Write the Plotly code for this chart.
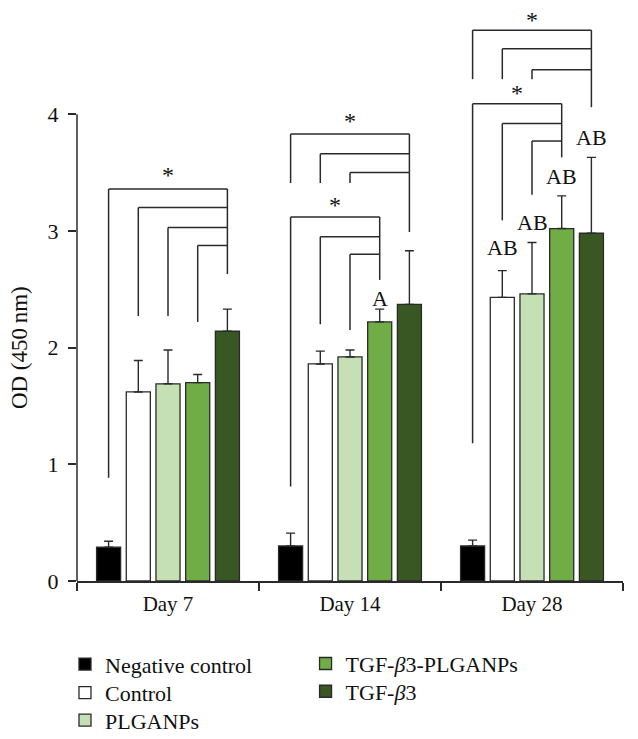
import plotly.graph_objects as go

# ---------------- data ----------------
groups = ["Day 7", "Day 14", "Day 28"]
series_names = ["Negative control", "Control", "PLGANPs",
                "TGF-<i>β</i>3-PLGANPs", "TGF-<i>β</i>3"]

neg_mean = [0.29, 0.30, 0.30]
neg_sd = [0.05, 0.11, 0.05]
ctrl_mean = [1.62, 1.86, 2.43]
ctrl_sd = [0.27, 0.11, 0.23]
plga_mean = [1.69, 1.92, 2.46]
plga_sd = [0.29, 0.06, 0.44]
tgfplga_mean = [1.70, 2.22, 3.02]
tgfplga_sd = [0.07, 0.11, 0.28]
tgf_mean = [2.14, 2.37, 2.98]
tgf_sd = [0.19, 0.46, 0.65]

y_ticks = [0, 1, 2, 3, 4]

# significance letters (per group, per series) and their heights
letters = [["", "", "", "", ""],
           ["", "", "", "A", ""],
           ["", "AB", "AB", "AB", "AB"]]
letter_y = [[0, 0, 0, 0, 0],
            [0, 0, 0, 2.42, 0],
            [0, 2.86, 3.07, 3.47, 3.80]]

# brackets: group, target series, source series, levels, leg ends
bracket_group = [0, 1, 1, 2, 2]
bracket_target = [4, 4, 3, 4, 3]
bracket_sources = [[0, 1, 2, 3], [0, 1, 2], [0, 1, 2], [0, 1, 2], [0, 1, 2]]
bracket_levels = [[3.36, 3.20, 3.03, 2.875], [3.83, 3.66, 3.50],
                  [3.12, 2.95, 2.80], [4.72, 4.56, 4.38], [4.09, 3.92, 3.77]]
bracket_leg_ends = [[0.885, 2.27, 2.27, 2.22], [3.41, 3.41, 3.41],
                    [0.81, 2.20, 2.15], [4.30, 4.30, 4.30], [1.18, 3.09, 3.31]]
bracket_target_end = [2.63, 2.99, 2.58, 4.06, 3.63]
bracket_star_y = [3.49, 3.95, 3.23, 4.82, 4.19]

# ---------------- style ----------------
colors = ["#000000", "#FFFFFF", "#C5E0B4", "#70AD47", "#385723"]
FONT = "Liberation Serif"
FS = 21
LEG_FS = 22
TXT_C = "#111111"
BARGAP = 0.184
BARGROUPGAP = 0.19
LINE_C = "#2a2a2a"

# legend placement (paper coords), one legend per entry
leg_x = [-0.022, -0.022, -0.022, 0.4186, 0.4186]
leg_y = [-0.110, -0.1605, -0.209, -0.109, -0.158]
leg_ids = ["legend", "legend2", "legend3", "legend4", "legend5"]

means = [neg_mean, ctrl_mean, plga_mean, tgfplga_mean, tgf_mean]
sds = [neg_sd, ctrl_sd, plga_sd, tgfplga_sd, tgf_sd]

fig = go.Figure()
for i in range(5):
    fig.add_trace(go.Bar(
        x=groups, y=means[i], name=series_names[i],
        marker=dict(color=colors[i], line=dict(color=LINE_C, width=1.3)),
        error_y=dict(type="data", symmetric=False, array=sds[i],
                     arrayminus=[0] * 3, color=LINE_C, thickness=1.4, width=4.5),
        legend=leg_ids[i],
    ))

n = 5
slot = (1 - BARGAP) / n


def bx(g, i):
    return g + (i - (n - 1) / 2) * slot


shapes = []
annotations = []
lk = dict(color=LINE_C, width=1.5)
for b in range(len(bracket_group)):
    g = bracket_group[b]
    xt = bx(g, bracket_target[b])
    top = bracket_levels[b][0]
    shapes.append(dict(type="line", xref="x", yref="y", x0=xt, x1=xt,
                       y0=top, y1=bracket_target_end[b], line=lk))
    for s, lev, end in zip(bracket_sources[b], bracket_levels[b], bracket_leg_ends[b]):
        xs = bx(g, s)
        shapes.append(dict(type="line", xref="x", yref="y", x0=xs, x1=xt,
                           y0=lev, y1=lev, line=lk))
        shapes.append(dict(type="line", xref="x", yref="y", x0=xs, x1=xs,
                           y0=lev, y1=end, line=lk))
    xs0 = bx(g, bracket_sources[b][0])
    annotations.append(dict(x=(xs0 + xt) / 2, y=bracket_star_y[b], xref="x", yref="y",
                            text="*", showarrow=False, yanchor="middle", yshift=-1,
                            font=dict(family=FONT, size=24, color=TXT_C)))

for g in range(3):
    for i in range(5):
        if letters[g][i]:
            annotations.append(dict(x=bx(g, i), y=letter_y[g][i], xref="x", yref="y",
                                    text=letters[g][i], showarrow=False, yanchor="middle",
                                    font=dict(family=FONT, size=LEG_FS, color=TXT_C)))

# y axis line only from 0 to 4
shapes.append(dict(type="line", xref="paper", yref="y", x0=0, x1=0, y0=0, y1=4,
                   line=dict(color=LINE_C, width=1.5)))

annotations.append(dict(x=0, y=2, xref="paper", yref="y", xshift=-72,
                        text="OD (450\u2009nm)", textangle=-90, showarrow=False,
                        font=dict(family=FONT, size=23, color=TXT_C)))

legends = {}
for k, lid in enumerate(leg_ids):
    legends[lid] = dict(x=leg_x[k], y=leg_y[k], xanchor="left", yanchor="top",
                        orientation="v", bgcolor="rgba(0,0,0,0)",
                        font=dict(family=FONT, size=LEG_FS, color=TXT_C))

# the page body has an 8px margin, so the figure is 8px smaller than the window
fig.update_layout(
    width=630, height=731,
    margin=dict(l=69, r=15, t=7, b=158, autoexpand=False),
    paper_bgcolor="white", plot_bgcolor="white",
    barmode="group", bargap=BARGAP, bargroupgap=BARGROUPGAP,
    font=dict(family=FONT, size=FS, color=TXT_C),
    shapes=shapes, annotations=annotations,
    xaxis=dict(type="category", range=[-0.5, 2.5], showline=True, linecolor=LINE_C,
               linewidth=1.5, ticks="outside", tickson="boundaries", ticklen=8,
               tickcolor=LINE_C, tickwidth=1.5, showgrid=False, zeroline=False,
               ticklabelstandoff=3,
               tickfont=dict(family=FONT, size=FS, color=TXT_C)),
    yaxis=dict(range=[0, 4.85], tickvals=y_ticks, ticks="outside", ticklen=8,
               tickcolor=LINE_C, tickwidth=1.5, showline=False, showgrid=False,
               zeroline=False, ticklabelstandoff=5,
               tickfont=dict(family=FONT, size=LEG_FS, color=TXT_C)),
    showlegend=True,
    **legends,
)

fig.write_html("out.html")
